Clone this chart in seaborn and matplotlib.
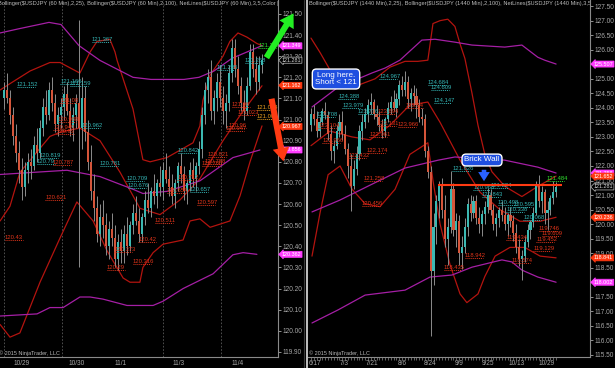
import numpy as np
import pandas as pd
import matplotlib
matplotlib.use("Agg")
import matplotlib.pyplot as plt
import seaborn as sns
from matplotlib.lines import Line2D

sns.set_theme(style="dark")
plt.rcParams['font.family'] = ['Liberation Sans', 'DejaVu Sans']

# ---------------- LEFT PANEL (60 min) ----------------
L_open = [121.10,121.14,121.10,121.02,120.92,120.84,120.76,120.68,120.76,120.80,
 120.78,120.88,120.84,120.96,121.06,121.02,121.14,121.08,120.98,121.02,
 121.06,121.12,121.04,120.96,121.02,121.08,120.96,121.10,120.94,120.80,
 120.66,120.58,120.46,120.54,120.50,120.40,120.48,120.44,120.34,120.42,
 120.38,120.46,120.40,120.50,120.56,120.52,120.46,120.54,120.62,120.58,
 120.66,120.64,120.70,120.68,120.76,120.72,120.68,120.64,120.70,120.78,
 120.74,120.66,120.70,120.76,120.72,120.78,120.86,121.02,121.14,121.20,
 121.04,121.10,121.18,121.10,121.04,121.08,121.22,121.34,121.24,121.16,
 121.08,121.04,121.16,121.32,121.24,121.18,121.26]
L_high = [121.18,121.22,121.14,121.06,120.98,120.90,120.82,120.80,120.84,120.86,
 120.92,120.96,121.00,121.10,121.14,121.18,121.20,121.12,121.06,121.10,
 121.16,121.18,121.10,121.06,121.12,121.47,121.20,121.16,121.00,120.88,
 120.74,120.64,120.60,120.62,120.56,120.52,120.56,120.50,120.46,120.48,
 120.50,120.54,120.52,120.60,120.64,120.58,120.56,120.66,120.70,120.68,
 120.74,120.72,120.78,120.80,120.84,120.78,120.74,120.72,120.80,120.84,
 120.78,120.72,120.80,120.82,120.80,120.90,121.06,121.18,121.24,121.28,
 121.14,121.22,121.26,121.16,121.12,121.26,121.38,121.38,121.30,121.20,
 121.14,121.20,121.36,121.36,121.30,121.30,121.31]
L_low = [121.05,121.08,120.98,120.88,120.80,120.70,120.62,120.64,120.70,120.72,
 120.76,120.80,120.82,120.92,120.98,121.00,121.04,120.94,120.92,120.96,
 121.00,121.02,120.92,120.90,120.96,120.30,120.86,120.90,120.76,120.62,
 120.52,120.42,120.40,120.44,120.36,120.34,120.40,120.30,120.29,120.32,
 120.32,120.36,120.38,120.46,120.50,120.42,120.42,120.50,120.56,120.54,
 120.60,120.58,120.64,120.62,120.70,120.64,120.60,120.58,120.66,120.70,
 120.62,120.60,120.66,120.68,120.66,120.74,120.82,120.98,121.08,121.00,
 120.98,121.04,121.06,120.98,120.96,121.04,121.18,121.20,121.12,121.04,
 121.00,121.02,121.14,121.20,121.12,121.14,121.22]
L_close = [121.14,121.10,121.02,120.92,120.84,120.76,120.68,120.76,120.80,120.78,
 120.88,120.84,120.96,121.06,121.02,121.14,121.08,120.98,121.02,121.06,
 121.12,121.04,120.96,121.02,121.08,120.96,121.10,120.94,120.80,120.66,
 120.58,120.46,120.54,120.50,120.40,120.48,120.44,120.34,120.42,120.38,
 120.46,120.40,120.50,120.56,120.52,120.46,120.54,120.62,120.58,120.66,
 120.64,120.70,120.68,120.76,120.72,120.68,120.64,120.70,120.78,120.74,
 120.66,120.70,120.76,120.72,120.78,120.86,121.02,121.14,121.20,121.04,
 121.10,121.18,121.10,121.04,121.08,121.22,121.34,121.24,121.16,121.08,
 121.04,121.16,121.32,121.24,121.18,121.26,121.28]

# Bollinger(2,25) red, read at sparse bars
L_ru_x = [-1.3,2,8.7,15.3,18.7,25.3,28.7,31,35.3,37,37.7,43,46.3,48.7,54.3,63,65.3,66.3,68.7,73,75.3,78,81,84.3,86]
L_ru_y = [121.14,121.17,121.23,121.27,121.27,121.22,121.32,121.37,121.38,121.32,121.28,121.05,120.81,120.80,120.82,120.89,120.97,121.09,121.21,121.30,121.37,121.41,121.39,121.36,121.35]
L_rm_x = [-1.3,2,5.3,15.3,18.7,25.3,32,38.7,45.3,52,58.7,65.3,73,78.7,86]
L_rm_y = [120.52,120.59,120.75,120.92,120.94,120.96,120.90,120.75,120.58,120.55,120.62,120.72,120.90,121.02,121.16]
L_rl_x = [-1.3,2,5.3,12,18.7,24.3,29.7,34.3,39.7,42,45.3,46.3,49.7,53,59.7,62,65.3,68.7,75.3,78.7,82,86]
L_rl_y = [120.03,119.97,119.99,120.23,120.44,120.61,120.52,120.38,120.25,120.23,120.23,120.30,120.37,120.41,120.43,120.52,120.53,120.49,120.52,120.64,120.80,120.97]
# Bollinger(2,100) purple
L_pu_x = [-1.3,5,15,19,25,32,43,49,60,65,70,76,86]
L_pu_y = [121.41,121.43,121.46,121.45,121.35,121.28,121.20,121.19,121.19,121.20,121.23,121.29,121.35]
L_pm_x = [-1.3,9.7,21,32,43,46.3,54.3,65.3,76.3,85.3]
L_pm_y = [120.74,120.75,120.76,120.73,120.67,120.65,120.66,120.71,120.82,120.856]
L_pl_x = [-1.3,11,15.3,19.7,25.3,28.7,33,41,49.7,53,59.7,69.7,76.3,79.7,84.3]
L_pl_y = [120.07,120.08,120.11,120.11,120.16,120.16,120.15,120.12,120.12,120.14,120.20,120.27,120.36,120.37,120.362]

L_dates = ["10/29", "10/30", "11/1", "11/3", "11/4"]
L_date_pos = [5.7, 24.3, 39, 58.3, 77.7]
L_sessions = [0, 19.3, 53, 72.3]

L_lbl_x = [4.3,18.7,22,26,12,11,32,40.7,41.3,58,62,29.3,71,80.3,
           0.3,18.7,18,16.5,17.5,16.3,13.7,34.3,36.7,44.7,43,50.3,57.7,54.3,64.3,66,68,67,74.7,74,76,78,
           84.3,84.3,84.7]
L_lbl_v = ["121.152","121.166","121.159","120.962","120.819","120.79","120.781","120.709","120.676","120.842","120.657","121.367","121.235","121.268",
           "120.43","121.08","120.988","120.949","120.93","120.787","120.621","120.29","120.373","120.42","120.316","120.511","120.712","120.654","120.597","120.780","120.821","120.788","120.96","120.947","121.06","121.023",
           "121.044","121.001","121.339"]
L_lbl_c = ["t"]*14 + ["r"]*22 + ["o","o","g"]

L_tags = [121.349, 121.281, 121.162, 120.967, 120.856, 120.362]
L_tag_kind = ["m", "c", "r", "r", "m", "m"]

# ---------------- RIGHT PANEL (daily) ----------------
R_open = [123.40,123.80,123.60,123.20,123.50,123.90,123.75,123.10,122.50,122.70,
 123.20,123.50,123.10,122.60,122.00,121.30,121.90,122.40,123.20,123.50,
 123.80,124.10,124.20,123.80,123.70,123.40,123.20,123.60,124.00,124.20,
 124.00,124.30,124.80,124.60,124.90,124.30,124.50,124.40,124.10,123.70,
 123.60,122.50,121.80,118.40,119.90,120.80,121.30,120.50,119.50,119.90,
 121.20,119.80,120.10,119.00,119.20,119.90,120.70,120.40,120.80,120.20,
 120.00,120.34,120.60,121.00,120.50,120.00,120.20,120.50,120.30,120.00,
 120.30,120.10,119.70,119.20,118.80,118.90,119.40,119.80,120.07,120.40,
 121.30,120.80,121.10,120.40,120.50,120.90,121.10]
R_high = [124.00,124.10,123.90,123.70,124.00,124.20,123.90,123.40,122.90,123.40,
 123.80,123.90,123.40,122.80,122.40,122.20,122.70,123.40,123.80,124.00,
 124.30,124.50,124.30,124.10,123.90,123.60,123.70,124.20,124.40,124.60,
 124.50,124.97,125.10,125.28,125.10,124.70,124.80,124.68,124.30,124.00,
 123.80,122.70,122.00,120.40,121.00,121.50,121.60,121.00,120.20,121.83,
 121.40,120.40,120.30,119.60,120.20,120.90,121.00,120.97,121.00,120.60,
 120.50,120.80,121.23,121.20,120.70,120.40,120.60,120.80,120.60,120.40,
 120.60,120.30,120.00,119.50,119.10,119.60,120.00,120.15,120.60,121.50,
 121.70,121.30,121.20,120.80,121.00,121.48,121.45]
R_low = [123.20,123.40,123.00,123.00,123.40,123.60,122.90,122.20,122.10,122.60,
 123.00,122.90,122.40,121.60,120.46,121.20,121.70,122.20,122.90,123.30,
 123.50,123.80,123.60,123.40,123.20,122.96,123.00,123.50,123.80,123.90,
 123.70,124.10,124.40,124.40,124.00,123.90,124.10,123.64,123.50,123.40,
 122.30,121.60,116.15,117.90,119.30,120.20,120.20,119.20,118.60,119.70,
 119.60,119.20,118.60,118.44,119.00,119.60,120.10,120.20,120.00,119.70,
 119.60,120.00,120.40,120.30,119.80,119.60,119.90,120.10,119.80,119.60,
 119.90,119.43,119.00,118.57,118.07,118.70,119.20,119.50,119.90,120.30,
 120.60,120.40,120.00,119.80,120.30,120.70,120.95]
R_close = [123.80,123.60,123.20,123.50,123.90,123.75,123.10,122.50,122.70,123.20,
 123.50,123.10,122.60,122.00,121.30,121.90,122.40,123.20,123.50,123.80,
 124.10,124.20,123.80,123.70,123.40,123.20,123.60,124.00,124.20,124.00,
 124.30,124.80,124.60,124.90,124.30,124.50,124.40,124.10,123.70,123.60,
 122.50,121.80,118.40,119.90,120.80,121.30,120.50,119.50,119.90,121.20,
 119.80,120.10,119.00,119.20,119.90,120.70,120.40,120.80,120.20,120.00,
 120.34,120.60,121.00,120.50,120.00,120.20,120.50,120.30,120.00,120.30,
 120.10,119.70,119.20,118.80,118.90,119.40,119.80,120.07,120.40,121.30,
 120.80,121.10,120.40,120.50,120.90,121.10,121.28]

R_ru_x = [0,3.2,6.7,10.2,14.4,22.5,27.7,33,37.5,41,42.8,45.3,48,50.5,52.3,54,56.5,58.6,61,63.5,68,74,79.6,86]
R_ru_y = [126.4,125.9,125.3,124.9,124.7,125.0,125.4,125.6,125.6,125.64,126.9,127.0,127.05,126.8,126.2,125.7,124.5,123.4,122.4,121.8,121.3,120.95,121.3,121.652]
R_rm_x = [0,6.7,14.4,20.7,27.7,34.7,41,45.3,52.3,59.3,66.3,73.3,80.4,86]
R_rm_y = [122.7,123.2,123.0,122.9,123.4,124.1,124.2,123.5,122.2,121.1,120.5,120.1,120.1,120.236]
R_rl_x = [0.35,3.2,6,10.2,14.4,19,24.2,29.5,34.7,41,42.8,45.3,48.8,52.3,54.7,58.6,61,64.6,69.8,75,80.4,86]
R_rl_y = [118.9,120.4,121.7,122.0,121.2,120.7,120.6,121.2,122.4,122.8,121.5,120.0,118.6,117.6,117.3,117.6,118.2,118.9,119.2,119.2,118.9,118.841]
R_pu_x = [0.35,9.5,21.4,26,31.2,38.9,43.5,50.5,56.5,68,74,79.6,82,86]
R_pu_y = [124.03,124.71,125.20,125.37,125.64,126.33,126.36,126.26,126.16,126.09,126.16,125.74,125.64,125.507]
R_pm_x = [0.35,10.2,20.7,33,44.6,50.5,68,79.6,86]
R_pm_y = [120.42,120.83,121.34,121.93,122.20,122.31,122.20,121.96,121.758]
R_pl_x = [0.35,9.5,19,33,41.75,49.5,56.5,67,70.5,74,79.6,86]
R_pl_y = [116.60,117.05,117.56,117.73,118.18,118.25,118.52,118.77,118.70,118.42,118.18,118.002]

R_dates = ["6/17","7/3","7/21","8/6","8/24","9/9","9/25","10/13","10/29"]
R_date_pos = [1.4, 11.6, 21.4, 31.9, 41.8, 51.9, 62.1, 72.3, 82.5]

R_lbl_x = [9.5,11,2,24,41,42,43,16.5,49.5,57,60,63,65.5,68.5,71,74.5,
           2.5,4,23.5,23.5,20.5,33,30.5,13,19.5,18.5,17.8,46.5,54,68.5,70.5,80,81,79,78,
           82.5]
R_lbl_y = [124.30,123.98,123.70,124.98,124.78,124.60,124.15,123.78,121.83,121.16,120.93,121.24,120.66,120.42,120.60,120.15,
           123.30,122.80,123.80,123.36,123.00,124.00,123.34,122.28,122.46,121.49,120.62,118.43,118.84,119.44,118.65,119.75,119.58,119.38,119.06,
           121.48]
R_lbl_v = ["124.388","123.979","123.708","124.967","124.684","124.609","124.147","123.776","121.826","120.968","120.843","121.224","120.498","120.338","120.595","120.068",
           "123.104","122.966","123.694","123.131","122.961","123.64","123.966","122.432","122.174","121.258","120.456","118.435","118.942","119.434","118.574","119.746","119.609","119.452","119.129",
           "121.484"]
R_lbl_c = ["t"]*16 + ["r"]*19 + ["g"]

R_tags = [125.507, 121.758, 121.652, 121.281, 120.236, 118.841, 118.002]
R_tag_kind = ["m", "m", "r", "c", "r", "r", "m"]

BRICK_LEVEL = 121.34

# ---------------- drawing ----------------
BG = "black"
UP = "#3cb8b2"
DN = "#d5553a"
WICK = "#8c8c8c"
RED_BAND = "#b3140f"
PUR_BAND = "#a51fa5"
LBL = {"t": "#34b4b4", "r": "#e0341a", "o": "#e8a020", "g": "#2ee02e"}
TAG = {"m": ("#ff3cff", "#ff3cff", "white"), "r": ("#ff3810", "#ff3810", "white"),
       "c": ("black", "#bdbdbd", "#d8d8d8")}
TXT = "#a8a8a8"

fig = plt.figure(figsize=(6.15, 3.68), dpi=100, facecolor=BG)
H = 368.0
W = 615.0
axL = fig.add_axes([0 / W, 11 / H, 278 / W, 357 / H])
axR = fig.add_axes([308 / W, 11 / H, 282 / W, 357 / H])


def candles(ax, o, h, l, c, width):
    df = pd.DataFrame({"o": o, "h": h, "l": l, "c": c})
    df["x"] = np.arange(len(df))
    up = df["c"] >= df["o"]
    ax.vlines(df["x"], df["l"], df["h"], color=WICK, lw=0.7, zorder=3)
    ax.bar(df["x"][up], (df["c"] - df["o"])[up].clip(lower=0.006), bottom=df["o"][up],
           width=width, color=UP, lw=0, zorder=4)
    ax.bar(df["x"][~up], (df["o"] - df["c"])[~up].clip(lower=0.006), bottom=df["c"][~up],
           width=width, color=DN, lw=0, zorder=4)


def band(ax, xs, ys, col):
    sns.lineplot(x=xs, y=ys, ax=ax, color=col, lw=0.9, zorder=2, estimator=None)


def labels(ax, xs, ys, vs, cs, w, fs):
    for x, y, v, c in zip(xs, ys, vs, cs):
        col = LBL[c]
        ax.text(x, y, v, color=col, fontsize=fs, ha="left", va="bottom", zorder=6,
                clip_on=False)
        ax.hlines(y, x, x + w, color=col, lw=0.7, linestyles=(0, (1, 1)), zorder=6)


def tags(ax, ys, kinds):
    for y, k in zip(ys, kinds):
        fc, ec, tc = TAG[k]
        ax.annotate(f"{y:.3f}", xy=(1.0, y), xycoords=("axes fraction", "data"),
                    xytext=(2.8, 0), textcoords="offset points", va="center", ha="left",
                    fontsize=3.9, color=tc, annotation_clip=False, zorder=10,
                    bbox=dict(boxstyle="larrow,pad=0.1", fc=fc, ec=ec, lw=0.5))


def style_axis(ax, ylim, ystep, xlim):
    ax.set_facecolor(BG)
    ax.set_xlim(*xlim)
    ax.set_ylim(*ylim)
    ax.grid(False)
    for s in ["top", "left"]:
        ax.spines[s].set_visible(False)
    for s in ["bottom", "right"]:
        ax.spines[s].set_color("#8a8a8a")
        ax.spines[s].set_linewidth(0.8)
    ax.yaxis.tick_right()
    lo = np.ceil(ylim[0] / ystep) * ystep
    ticks = np.arange(lo, ylim[1], ystep)
    ax.set_yticks(ticks)
    ax.set_yticklabels([f"{t:.2f}" for t in ticks])
    ax.tick_params(axis="y", colors=TXT, labelsize=4.7, length=2.2, width=0.6, pad=0.8,
                   right=True, direction="out")
    ax.tick_params(axis="x", colors=TXT, labelsize=4.7, length=0, pad=2)
    ax.set_xlabel("")
    ax.set_ylabel("")


# LEFT
style_axis(axL, (119.876, 121.566), 0.10, (-1.33, 91.33))
for s in L_sessions:
    axL.axvline(s, color="#5a5a5a", lw=0.6, ls=(0, (2, 2)), zorder=1)
candles(axL, L_open, L_high, L_low, L_close, 0.65)
band(axL, L_ru_x, L_ru_y, RED_BAND)
band(axL, L_rm_x, L_rm_y, RED_BAND)
band(axL, L_rl_x, L_rl_y, RED_BAND)
band(axL, L_pu_x, L_pu_y, PUR_BAND)
band(axL, L_pm_x, L_pm_y, PUR_BAND)
band(axL, L_pl_x, L_pl_y, PUR_BAND)
L_lbl_y = [float(v) for v in L_lbl_v]
labels(axL, L_lbl_x, L_lbl_y, L_lbl_v, L_lbl_c, 6, 4.2)
axL.set_xticks(L_date_pos)
axL.set_xticklabels(L_dates)
tags(axL, L_tags, L_tag_kind)
axL.text(-0.008, 0.997, "Bollinger($USDJPY (60 Min),2,25), Bollinger($USDJPY (60 Min),2,100), "
         "NetLines($USDJPY (60 Min),3,5,Color [Lime])", transform=axL.transAxes,
         color="#bcbcbc", fontsize=4.05, va="top", ha="left", clip_on=True, zorder=8)
axL.text(-0.005, 0.004, "\u00a9 2015 NinjaTrader, LLC", transform=axL.transAxes,
         color="#b8b8b8", fontsize=4.0, va="bottom", ha="left", zorder=8)

# RIGHT
style_axis(axR, (115.43, 127.71), 0.50, (-1.05, 97.9))
candles(axR, R_open, R_high, R_low, R_close, 0.75)
band(axR, R_ru_x, R_ru_y, RED_BAND)
band(axR, R_rm_x, R_rm_y, RED_BAND)
band(axR, R_rl_x, R_rl_y, RED_BAND)
band(axR, R_pu_x, R_pu_y, PUR_BAND)
band(axR, R_pm_x, R_pm_y, PUR_BAND)
band(axR, R_pl_x, R_pl_y, PUR_BAND)
labels(axR, R_lbl_x, R_lbl_y, R_lbl_v, R_lbl_c, 6.3, 4.2)
axR.hlines(BRICK_LEVEL, 44.6, 88.0, color="#ff3a12", lw=1.5, zorder=7)
axR.set_xticks(R_date_pos)
axR.set_xticklabels(R_dates)
axR.set_xticks(np.arange(0, len(R_close)), minor=True)
axR.tick_params(axis="x", which="minor", length=2, color="#8a8a8a", width=0.5, bottom=True)
tags(axR, R_tags, R_tag_kind)
axR.text(0.005, 0.997, "Bollinger($USDJPY (1440 Min),2,25), Bollinger($USDJPY (1440 Min),2,100), "
         "NetLines($USDJPY (1440 Min),3,5,Color [Lime])", transform=axR.transAxes,
         color="#bcbcbc", fontsize=4.05, va="top", ha="left", clip_on=True, zorder=8)
axR.text(0.005, 0.004, "\u00a9 2015 NinjaTrader, LLC", transform=axR.transAxes,
         color="#b8b8b8", fontsize=4.0, va="bottom", ha="left", zorder=8)

# separator between the two charts
fig.add_artist(Line2D([306.5 / W, 306.5 / W], [0, 1], color="#d0d0d0", lw=1.3))
fig.add_artist(Line2D([303.5 / W, 303.5 / W], [0, 1], color="#3a3a3a", lw=0.8))

# annotations: arrows and callouts
fig.text(336 / W, 1 - 79 / H, "Long here.\nShort < 121", color="white", fontsize=5.8,
         ha="center", va="center", linespacing=1.05,
         bbox=dict(boxstyle="round,pad=0.35,rounding_size=0.5", fc="#1f4fe0", ec="white", lw=1.0))
fig.text(482 / W, 1 - 160 / H, "Brick Wall", color="white", fontsize=5.8,
         ha="center", va="center",
         bbox=dict(boxstyle="round,pad=0.3,rounding_size=0.5", fc="#1f4fe0", ec="white", lw=1.0))
fig.patches.append(matplotlib.patches.FancyArrowPatch(
    (484, H - 167), (484, H - 184), transform=None,
    arrowstyle="simple,head_width=1.4,head_length=1.1,tail_width=0.55", mutation_scale=6,
    color="#2a62ff", lw=0, zorder=20))
fig.patches.append(matplotlib.patches.FancyArrowPatch(
    (265, H - 60), (295, H - 11), transform=None,
    arrowstyle="simple,head_width=1.5,head_length=1.2,tail_width=0.55", mutation_scale=8,
    color="#22ee22", lw=0, zorder=20))
fig.patches.append(matplotlib.patches.FancyArrowPatch(
    (271, H - 96), (284, H - 164), transform=None,
    arrowstyle="simple,head_width=1.5,head_length=1.2,tail_width=0.55", mutation_scale=8,
    color="#ff3a12", lw=0, zorder=20))

fig.savefig("out.png", dpi=100, facecolor=BG)
